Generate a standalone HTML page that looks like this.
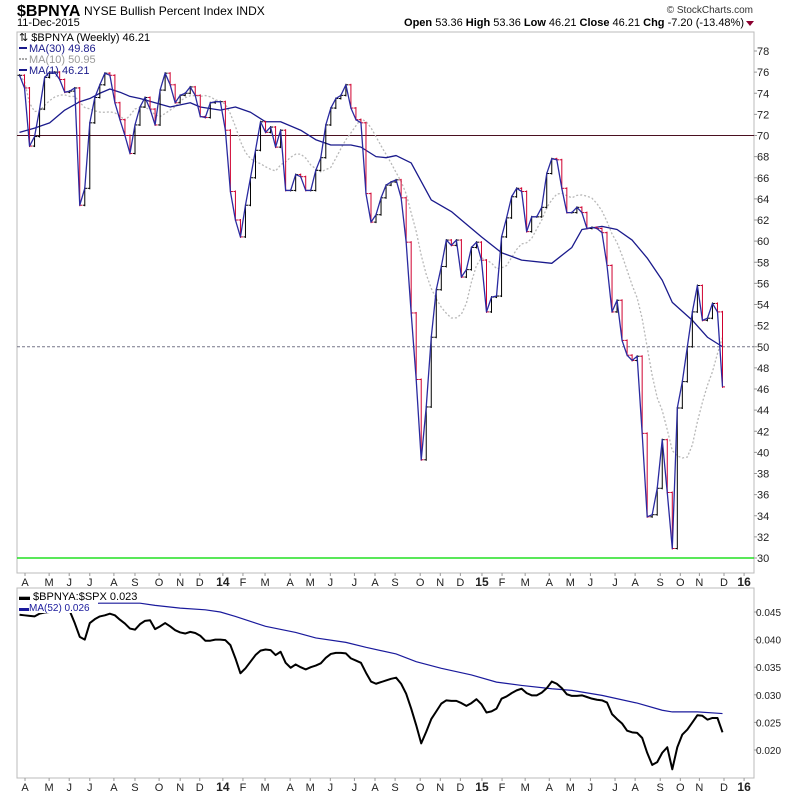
<!DOCTYPE html>
<html><head><meta charset="utf-8">
<style>
html,body{margin:0;padding:0;background:#fff;}
svg{display:block;font-family:"Liberation Sans",sans-serif;}
</style></head>
<body>
<svg id="chart" width="800" height="795" viewBox="0 0 800 795">
  <text x="17" y="16" font-size="16" font-weight="bold">$BPNYA</text>
  <text x="84" y="15" font-size="12">NYSE Bullish Percent Index  INDX</text>
  <text x="17" y="26" font-size="11">11-Dec-2015</text>
  <text x="753" y="13" font-size="10" text-anchor="end" fill="#333">© StockCharts.com</text>
  <text x="744" y="26" font-size="11" text-anchor="end"><tspan font-weight="bold">Open</tspan> 53.36  <tspan font-weight="bold">High</tspan> 53.36  <tspan font-weight="bold">Low</tspan> 46.21  <tspan font-weight="bold">Close</tspan> 46.21  <tspan font-weight="bold">Chg</tspan> -7.20 (-13.48%)</text>
  <path d="M746 21 L754 21 L750 26 Z" fill="#8b0030"/>

  <rect x="17" y="32" width="737" height="541" fill="#fff" stroke="#bbb"/>
  <rect x="17" y="588" width="737" height="190" fill="#fff" stroke="#bbb"/>
  <g id="main"></g>
  <g id="lower"></g>
  <g id="axes"></g>

  <g>
    <text x="19" y="41" font-size="11">⇅ $BPNYA (Weekly) 46.21</text>
    <line x1="19" y1="48" x2="27" y2="48" stroke="#1a1a8c" stroke-width="2"/>
    <text x="29" y="52" font-size="11" fill="#1a1a8c">MA(30) 49.86</text>
    <line x1="19" y1="59" x2="27" y2="59" stroke="#aaa" stroke-width="2" stroke-dasharray="2,1"/>
    <text x="29" y="63" font-size="11" fill="#999">MA(10) 50.95</text>
    <line x1="19" y1="70" x2="27" y2="70" stroke="#1a1a8c" stroke-width="2"/>
    <text x="29" y="74" font-size="11" fill="#1a1a8c">MA(1) 46.21</text>
  </g>
</svg>
<script>
const closes=[75.7,74.5,69,69.9,72.5,75.5,76,76,75.3,74.1,74.2,74.5,63.4,65,71.2,73.6,74.8,75.9,75.7,73.1,71.5,70.0,68.3,71,72.7,73.6,72.5,71,74.3,75.9,74.8,73.1,73.8,74,74.6,73.8,71.8,71.7,73.1,73.2,73.2,70.5,64.7,62,60.4,63.4,66,68.6,71.3,70.3,70.8,68.9,70.5,64.8,64.8,66.3,66.1,64.8,64.8,66.7,67.9,71,72.6,73.5,73.8,74.8,72.6,71.5,71.2,64.5,61.8,62.5,64.1,65.3,65.6,65.8,64.1,59.9,53.2,46.9,39.3,44.3,50.9,55.4,57.6,60.1,59.6,60.1,56.6,57.3,59.4,59.9,58.2,53.3,54.7,54.8,60.4,62.2,64.2,65,64.7,60.9,62.3,62.3,63.2,66.4,67.8,67.7,65,62.7,62.7,63.2,62.7,61.2,61.3,61.2,60.8,57.7,53.3,54.4,50.6,49.2,48.7,49.1,41.8,33.9,34.1,36.6,41.2,36.2,30.9,44.2,46.7,50,53.3,55.8,52.5,52.7,54.1,53.3,46.2];
const ma30Weeks=[0,3,6,9,12,14,16,18,20,22,24,27,30,34,36,40,43,46,49,52,56,59,62,66,68,71,73,75,78,82,86,88,92,96,100,106,110,112,116,119,122,125,128,130,134,137,140];
const ma30=[70.3,70.7,71.2,72.4,73.2,73.5,74,74.4,74.1,73.7,73.5,73.1,72.7,73.1,72.7,72.4,72.7,72.2,71.3,71.3,70.5,69.6,69.1,69.1,68.9,68,67.9,68.1,67.4,63.9,62.8,62,60.4,58.9,58.2,57.9,59.4,61.1,61.4,61.1,60.1,58.4,56.3,54.2,52.5,50.9,50];
const ratio=[0.0445,0.0444,0.0443,0.0442,0.0447,0.0449,0.045,0.045,0.045,0.0451,0.0452,0.043,0.0405,0.040,0.0430,0.0437,0.0442,0.0444,0.0447,0.0444,0.0436,0.0429,0.0420,0.0418,0.0428,0.0434,0.0435,0.0419,0.0424,0.0430,0.0424,0.0417,0.0413,0.0411,0.0414,0.0412,0.0407,0.0398,0.0398,0.0400,0.0400,0.0399,0.0390,0.0366,0.0339,0.0348,0.0360,0.0372,0.0380,0.0382,0.0381,0.0372,0.0378,0.0358,0.0349,0.0355,0.0350,0.0346,0.0350,0.0353,0.0357,0.0367,0.0374,0.0376,0.0376,0.0375,0.0366,0.0362,0.0358,0.0340,0.0324,0.0320,0.0323,0.0326,0.0329,0.0331,0.0320,0.0302,0.0275,0.0245,0.0212,0.0233,0.0256,0.0270,0.0284,0.0290,0.0289,0.0289,0.0285,0.0280,0.0285,0.0292,0.0283,0.0268,0.0270,0.0275,0.0293,0.0297,0.0303,0.0308,0.0311,0.0303,0.0299,0.0299,0.0304,0.0312,0.0324,0.0320,0.0312,0.0301,0.0298,0.0298,0.0299,0.0296,0.0293,0.0291,0.0290,0.0286,0.0265,0.0256,0.0248,0.0235,0.0232,0.0231,0.0222,0.0195,0.0173,0.0178,0.0195,0.0205,0.0165,0.0205,0.0228,0.0237,0.0250,0.0263,0.0262,0.0255,0.0258,0.0258,0.0232];
const ma52Weeks=[0,10,16,24,27,32,37,40,43,47,49,55,59,65,69,75,79,84,90,95,100,106,110,116,123,128,130,135,140];
const ma52=[0.0462,0.0463,0.0466,0.0466,0.0462,0.0457,0.0454,0.045,0.0442,0.043,0.0424,0.0413,0.0403,0.0395,0.0386,0.0374,0.036,0.0348,0.0336,0.0323,0.0317,0.0311,0.0308,0.0299,0.0285,0.0272,0.0269,0.0269,0.0266];
const priceTicks=[30,32,34,36,38,40,42,44,46,48,50,52,54,56,58,60,62,64,66,68,70,72,74,76,78];
const ratioTicks=[0.020,0.025,0.030,0.035,0.040,0.045];
const monthLabels=["A","M","J","J","A","S","O","N","D","14","F","M","A","M","J","J","A","S","O","N","D","15","F","M","A","M","J","J","A","S","O","N","D","16"];
const monthWeeks=[0.7,5.5,9.5,13.6,18.4,22.6,27.4,31.6,35.5,40.1,44.1,48.5,53.5,57.5,61.5,66.3,70.4,74.4,79.4,83.4,87.4,91.7,95.7,100.3,105.1,109.3,113.3,118.2,122.2,127.2,131.2,135,139.9,143.9];

const NS="http://www.w3.org/2000/svg";
const xS=i=>19.5+i*(703/140);
const yP=v=>558-(v-30)*10.5625;
const yR=v=>612+(0.045-v)*5520;
function mk(tag,attrs,parent){const e=document.createElementNS(NS,tag);for(const k in attrs)e.setAttribute(k,attrs[k]);parent.appendChild(e);return e;}
const main=document.getElementById('main'),lower=document.getElementById('lower'),axes=document.getElementById('axes');

let l=mk('line',{x1:17,x2:754,y1:yP(70),y2:yP(70),stroke:'#4a1020','stroke-width':1},main);


l=mk('line',{x1:17,x2:754,y1:yP(50),y2:yP(50),stroke:'#778','stroke-width':1,'stroke-dasharray':'3,2'},main);


l=mk('line',{x1:17,x2:754,y1:yP(30),y2:yP(30),stroke:'#22e022','stroke-width':1.5},main);



const ma10=closes.map((c,i)=>{const s=closes.slice(Math.max(0,i-9),i+1);return s.reduce((a,b)=>a+b,0)/s.length;});
let p=mk('polyline',{points:ma10.map((v,i)=>xS(i)+','+yP(v)).join(' '),fill:'none',stroke:'#b8b8b8','stroke-width':1.3,'stroke-dasharray':'2,2'},main);


p=mk('polyline',{points:ma30.map((v,k)=>xS(ma30Weeks[k])+','+yP(v)).join(' '),fill:'none',stroke:'#1a1a8c','stroke-width':1.3,'stroke-linejoin':'round'},main);



closes.forEach((c,i)=>{
  const o=i>0?closes[i-1]:c;const x=xS(i);const col=c<o?'#d0002f':'#000';
  const g=mk('g',{},main);
  
  
  mk('line',{x1:x,x2:x,y1:yP(Math.max(o,c))-1,y2:yP(Math.min(o,c))+1,stroke:col,'stroke-width':1},g);
  mk('line',{x1:x-2,x2:x,y1:yP(o),y2:yP(o),stroke:col,'stroke-width':1},g);
  mk('line',{x1:x,x2:x+2.5,y1:yP(c),y2:yP(c),stroke:col,'stroke-width':1},g);
});
p=mk('polyline',{points:closes.map((v,i)=>xS(i)+','+yP(v)).join(' '),fill:'none',stroke:'#2a2aa0','stroke-width':1.3,'stroke-linejoin':'round'},main);



p=mk('polyline',{points:ma52.map((v,k)=>xS(ma52Weeks[k])+','+yR(v)).join(' '),fill:'none',stroke:'#1a1a9c','stroke-width':1.2},lower);


p=mk('polyline',{points:ratio.map((v,i)=>xS(i)+','+yR(v)).join(' '),fill:'none',stroke:'#000','stroke-width':2,'stroke-linejoin':'round'},lower);


let lg=mk('rect',{x:18,y:589,width:80,height:24,fill:'#fff'},lower);


let t=mk('text',{x:19,y:600,'font-size':11},lower);t.textContent='▬ $BPNYA:$SPX 0.023';


t=mk('text',{x:19,y:611,'font-size':10,fill:'#1a1a9c'},lower);t.textContent='▬MA(52) 0.026';



priceTicks.forEach(v=>{
  const y=yP(v);
  mk('line',{x1:754,x2:757,y1:y,y2:y,stroke:'#999'},axes);
  const tt=mk('text',{x:757,y:y+4,'font-size':11,fill:'#222'},axes);tt.textContent=v;
  
  
});
ratioTicks.forEach(v=>{
  const y=yR(v);
  mk('line',{x1:754,x2:757,y1:y,y2:y,stroke:'#999'},axes);
  const tt=mk('text',{x:756,y:y+4,'font-size':10,fill:'#222'},axes);tt.textContent=v.toFixed(3);
  
  
});
[[573,586],[778,791]].forEach(([by,ty])=>{
  monthLabels.forEach((m,k)=>{
    const x=xS(monthWeeks[k])+2;
    mk('line',{x1:x,x2:x,y1:by,y2:by+3,stroke:'#999'},axes);
    const yr=/\d/.test(m);
    const tt=mk('text',{x:x,y:ty,'font-size':yr?12:11,'font-weight':yr?'bold':'normal','text-anchor':'middle',fill:'#222'},axes);
    tt.textContent=m;
    
    
  });
});
</script>
</body></html>
